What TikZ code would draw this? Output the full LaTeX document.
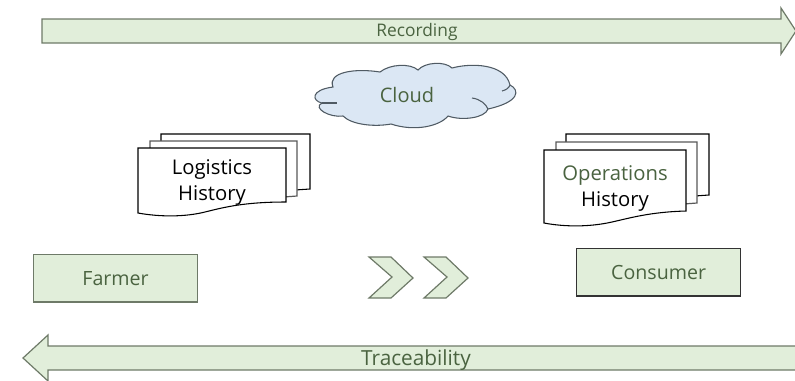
\documentclass[tikz,border=0pt]{standalone}
\usepackage{fontspec}
\setmainfont{Open Sans}
\definecolor{gfill}{HTML}{E1EEDA}
\definecolor{gedge}{HTML}{6E7A68}
\definecolor{gtext}{HTML}{4A6340}
\definecolor{cfill}{HTML}{DBE7F4}
\definecolor{cedge}{HTML}{4F5A63}
\tikzset{
  gshape/.style={draw=gedge,fill=gfill,line width=0.9pt,line join=miter},
  gbox/.style={gshape,minimum width=123pt,minimum height=35.5pt,inner sep=0pt,anchor=north west,text=gtext,font=\fontsize{14.7pt}{17pt}\selectfont},
  gtxt/.style={text=gtext,inner sep=0pt},
  sheet/.style={draw=black,fill=white,line width=0.8pt},
  sheetgrey/.style={draw=gray!70!black,fill=white,line width=0.9pt},
  doctxt/.style={font=\fontsize{15.2pt}{18pt}\selectfont,inner sep=0pt},
  cloudline/.style={draw=cedge,line width=0.8pt}
}
\begin{document}
\begin{tikzpicture}[x=0.75pt,y=-0.75pt]
\useasboundingbox (0,0) rectangle (795,380);
\clip (0,0) rectangle (795,380);
% Recording arrow
\draw[gshape] (42,19) -- (781,19) -- (781,8) -- (796,31) -- (781,54) -- (781,43) -- (42,43) -- cycle;
\node[gtxt,font=\fontsize{13pt}{16pt}\selectfont] (rec) at (417,32) {Recording};
% Traceability arrow
\draw[gshape] (800,346) -- (48,346) -- (48,335) -- (23,358) -- (48,381) -- (48,370) -- (800,370);
\node[gtxt,font=\fontsize{15.6pt}{18pt}\selectfont] (tra) at (416,360) {Traceability};
% Cloud
\draw[cloudline,fill=cfill]
 (333,87) .. controls (327,72) and (355,68) .. (380,72)
 .. controls (390,64) and (410,63) .. (418,70)
 .. controls (425,62) and (445,61) .. (452,68)
 .. controls (470,63) and (505,63) .. (510,85)
 .. controls (520,90) and (520,102) .. (488,109)
 .. controls (485,118) and (462,121) .. (448,116)
 .. controls (440,126) and (415,132) .. (391,124)
 .. controls (375,127) and (352,125) .. (343,116)
 .. controls (330,118) and (312,108) .. (322,103)
 .. controls (312,101) and (310,90) .. (333,87) -- cycle;
\draw[cloudline] (322,103) .. controls (327,103) and (332,103) .. (337,103);
\draw[cloudline] (488,109) .. controls (486,104) and (480,99) .. (472,98);
\draw[cloudline] (510,85) .. controls (509,88) and (506,90) .. (502,91);
\node[gtxt,font=\fontsize{15pt}{18pt}\selectfont] (cloud) at (407,95) {Cloud};
% Logistics history
\draw[sheet] (161,134) -- (310,134) -- (310,189) -- (280,191) -- (161,191) -- cycle;
\draw[sheetgrey] (150,141) -- (297,141) -- (297,196) -- (270,198) -- (150,198) -- cycle;
\draw[sheet] (138,148) -- (286,148) -- (286,202)
  .. controls (245,202) and (225,207) .. (205,212)
  .. controls (185,217) and (160,217) .. (138,213) -- cycle;
\node[doctxt] (logi) at (212,169) {Logistics};
\node[doctxt] (histl) at (212,195) {History};
% Operations history
\draw[sheet] (566,134) -- (709,134) -- (709,195) -- (680,197) -- (566,197) -- cycle;
\draw[sheetgrey] (556,142) -- (697,142) -- (697,203) -- (670,205) -- (556,205) -- cycle;
\draw[sheet] (544,150) -- (686,150) -- (686,211)
  .. controls (650,212) and (630,218) .. (612,222)
  .. controls (590,227) and (565,227) .. (544,223) -- cycle;
\node[doctxt,text=gtext] (oper) at (615,175) {Operations};
\node[doctxt] (hist) at (615,201) {History};
% Boxes
\node[gbox] (farmer) at (33,254) {Farmer};
\node[gbox,draw=black!80] (consumer) at (576,248) {Consumer};
% Chevrons
\draw[gshape] (369,257) -- (391,257) -- (413,278) -- (391,298) -- (369,298) -- (392,277) -- cycle;
\draw[gshape] (424,257) -- (446,257) -- (468,278) -- (446,298) -- (424,298) -- (447,277) -- cycle;
\end{tikzpicture}
\end{document}
